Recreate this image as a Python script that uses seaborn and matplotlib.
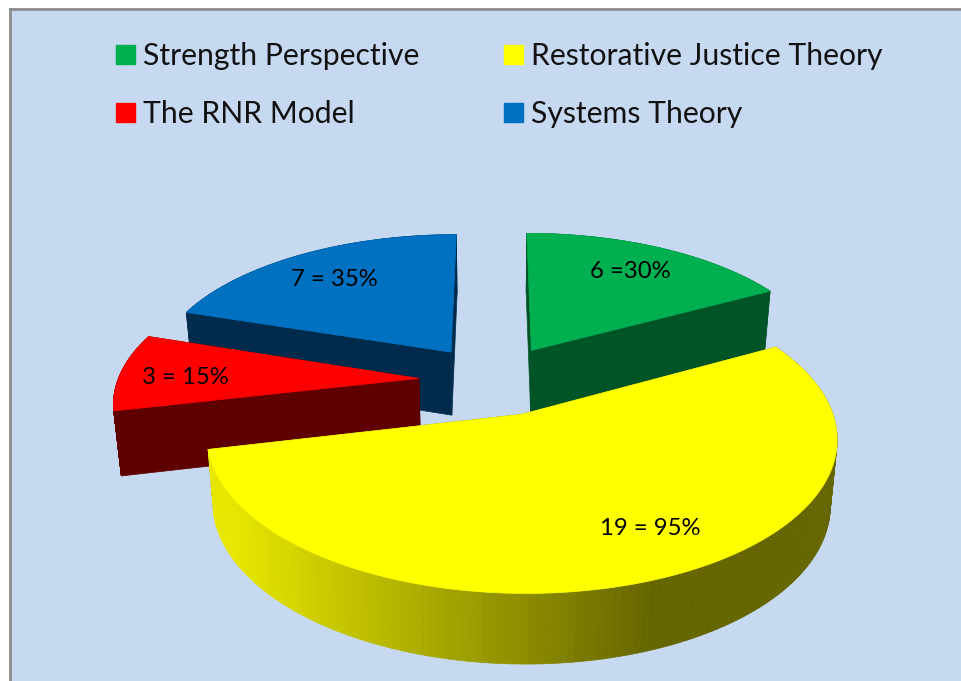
import numpy as np
import matplotlib
matplotlib.use("Agg")
import matplotlib.pyplot as plt
from matplotlib.patches import Patch
import seaborn as sns

categories = ["Strength Perspective", "Restorative Justice Theory", "The RNR Model", "Systems Theory"]
values = [6, 19, 3, 7]
slice_labels = ["6 =30%", "19 = 95%", "3 = 15%", "7 = 35%"]

top_colors = ["#00b050", "#ffff00", "#ff0000", "#0070c0"]
wall_colors = ["#005426", "#7a7a00", "#5f0000", "#002b4d"]
label_xy = [(630, 271), (650, 528), (185, 377), (334, 279)]

# layout of the tilted pie, in pixels of the picture
CX, CY = 494, 380
RX, RY = 301, 142
PERSP = 0.145
EXPLODE = 0.25
DEPTH = 64
SHRINK = 0.02

sns.set_theme(style="white")
plt.rcParams["font.family"] = ["Lato", "DejaVu Sans"]


def project(x, y):
    s = 1 / (1 + PERSP * y)
    return CX + RX * x * s, CY - RY * y * s, s


def lower(px, py, s):
    return CX + (px - CX) * (1 - SHRINK), py + DEPTH * np.sqrt(s)


fig = plt.figure(figsize=(9.61, 6.81), dpi=100, facecolor="white")
ax = fig.add_axes([10 / 961, 0, 951 / 961, 672 / 681], facecolor="#c6d9f1")
ax.set_xlim(10, 961)
ax.set_ylim(681, 9)
ax.set_xticks([])
ax.set_yticks([])
for side in ["right", "bottom"]:
    ax.spines[side].set_visible(False)
for side in ["top", "left"]:
    ax.spines[side].set_color("#8c8c8c")
    ax.spines[side].set_linewidth(2)

edges = np.cumsum([0] + values) / np.sum(values) * 2 * np.pi
rim_palette = sns.blend_palette(["#e8e800", "#666600"], 64)

# back slices first so the front ones cover them
for i in [3, 0, 2, 1]:
    mid = (edges[i] + edges[i + 1]) / 2
    ox, oy = EXPLODE * np.sin(mid), EXPLODE * np.cos(mid)
    th = np.linspace(edges[i], edges[i + 1], 160)
    px, py, s = project(ox + np.sin(th), oy + np.cos(th))
    ax_, ay_, as_ = project(ox, oy)
    bx, by = lower(px, py, s)
    abx, aby = lower(ax_, ay_, as_)

    # flat walls along the two cuts
    for j in [0, -1]:
        ax.fill([ax_, px[j], bx[j], abx], [ay_, py[j], by[j], aby],
                color=wall_colors[i], lw=0.5, zorder=2)

    # outer rim, the yellow one is shaded left to right
    for k in range(len(th) - 1):
        if i == 1:
            t = np.clip((px[k] - 225) / (650 - 225), 0, 1)
            c = rim_palette[int(t * 63)]
        else:
            c = wall_colors[i]
        ax.fill([px[k], px[k + 1], bx[k + 1], bx[k]], [py[k], py[k + 1], by[k + 1], by[k]],
                color=c, lw=0.5, zorder=2)

    ax.fill(np.r_[ax_, px], np.r_[ay_, py], color=top_colors[i], lw=0.5, zorder=2)

    ax.text(label_xy[i][0], label_xy[i][1], slice_labels[i], fontsize=17.2, color="black",
            ha="center", va="center", zorder=3)

order = [0, 2, 1, 3]
handles = [Patch(color=top_colors[i], label=categories[i]) for i in order]
ax.legend(
    handles=handles,
    ncol=2,
    frameon=False,
    fontsize=21.7,
    loc="upper left",
    bbox_to_anchor=(106 / 951, 1 - 33 / 672),
    handlelength=0.63,
    handleheight=0.63,
    handletextpad=0.27,
    labelspacing=1.0,
    columnspacing=2.8,
    borderpad=0,
    borderaxespad=0,
    labelcolor="#111111",
)

fig.savefig("out.png", dpi=100)
